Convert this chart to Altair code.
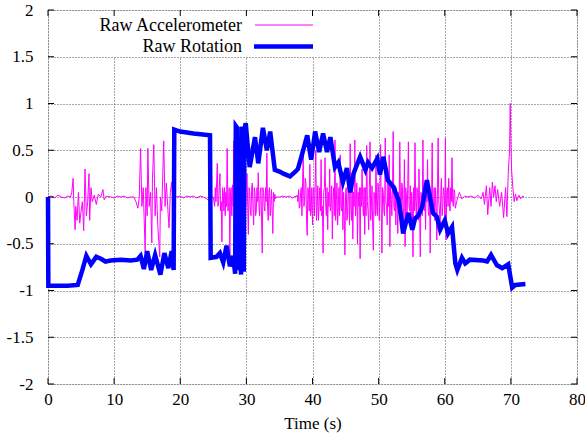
import altair as alt
import pandas as pd

# ---------------- data ----------------
# Raw accelerometer, segment 1 (0 - 24.8 s)
acc1_t = [0, 0.5, 1, 1.5, 2, 2.5, 3, 3.4,
          3.6, 3.8, 3.9, 4.1, 4.2, 4.4, 4.6, 4.8, 5.0, 5.2, 5.4, 5.6, 5.8, 6.0, 6.2, 6.3, 6.5, 6.7, 7.0, 7.3, 7.6, 8.0, 8.3, 8.5, 8.8,
          9.5, 10, 10.5, 11, 11.5, 12, 12.5, 13, 13.3, 13.6, 13.8,
          14.0, 14.2, 14.4, 14.7, 14.8, 15.0, 15.1, 15.3, 15.5, 15.7, 15.8, 16.0, 16.2, 16.4, 16.6, 16.9, 17.0, 17.2, 17.5, 17.7,
          17.9, 18.1, 18.3, 18.5, 18.7, 18.9, 19.1,
          19.5, 20, 20.5, 21, 21.5, 22, 22.5, 23, 23.5, 24, 24.5, 24.8]
acc1_v = [0, 0.01, -0.01, 0.02, 0, -0.01, 0.01, 0.0,
          0.05, 0.2, -0.05, -0.35, -0.1, -0.25, 0.05, -0.28, -0.15, -0.05, -0.36, 0.3, -0.2, -0.05, 0.25, -0.25, 0.1, -0.05, 0.02, -0.08, 0.03, 0.0, 0.08, -0.03, 0.01,
          0.0, -0.01, 0.01, 0.0, 0.01, -0.01, 0.0, 0.0, -0.05, -0.12, 0.0,
          0.52, -0.1, 0.1, -0.6, 0.1, -0.2, 0.52, -0.1, 0.05, -0.49, 0.2, 0.56, -0.2, 0.1, -0.3, -0.64, 0.0, -0.15, 0.6, -0.1,
          0.15, -0.1, -0.33, 0.05, 0.16, -0.05, 0.02,
          0.0, 0.01, -0.01, 0.01, 0.0, 0.01, -0.01, 0.01, 0.0, -0.02, -0.05, 0.0]

# segment 2 (25 - 34.5 s)
acc2_t = [25.0, 25.1, 25.2, 25.3, 25.4, 25.5, 25.6, 25.7, 25.8, 25.9, 26.0, 26.1, 26.2, 26.3, 26.4, 26.5, 26.6, 26.7, 26.8, 26.9,
          27.0, 27.1, 27.2, 27.3, 27.4, 27.5, 27.6, 27.7, 27.8, 27.9, 28.0, 28.1, 28.2, 28.3, 28.4, 28.5, 28.6, 28.7, 28.8, 28.9,
          29.0, 29.1, 29.2, 29.3, 29.4, 29.5, 29.6, 29.7, 29.8, 29.9, 30.0, 30.1, 30.2, 30.3, 30.4, 30.5, 30.6, 30.7, 30.8, 30.9,
          31.0, 31.1, 31.2, 31.3, 31.4, 31.5, 31.6, 31.7, 31.8, 31.9, 32.0, 32.1, 32.2, 32.3, 32.4, 32.5, 32.6, 32.7, 32.8, 32.9,
          33.0, 33.1, 33.2, 33.3, 33.4, 33.5, 33.6, 33.7, 33.8, 33.9, 34.0, 34.1, 34.2, 34.3, 34.4, 34.5]
acc2_v = [0.0, -0.05, -0.1, 0.1, -0.05, 0.15, 0.36, -0.1, -0.05, 0.1, 0.25, -0.15, -0.05, -0.48, 0.1, 0.05, -0.15, 0.1, -0.2, 0.05,
          -0.1, 0.52, -0.15, -0.1, 0.1, -0.64, 0.05, 0.1, -0.2, 0.13, -0.1, 0.6, -0.15, -0.3, 0.15, 0.1, -0.2, -0.45, 0.05, 0.2,
          -0.15, -0.1, 0.1, 0.35, -0.1, -0.3, 0.05, 0.1, -0.2, -0.1, 0.15, 0.25, -0.1, -0.4, 0.1, 0.05, -0.15, -0.2, 0.1, 0.15,
          -0.1, -0.3, 0.1, 0.05, -0.2, -0.15, 0.1, -0.05, 0.26, -0.1, -0.2, 0.05, 0.1, -0.25, -0.6, 0.1, 0.05, -0.1, -0.15, 0.1,
          -0.05, 0.47, -0.1, -0.25, 0.05, 0.1, -0.2, -0.1, 0.08, -0.15, -0.39, 0.05, -0.05, 0.03, -0.02, 0.0]

# segment 3 (quiet, 35 - 37.4 s)
acc3_t = [35, 35.5, 36, 36.5, 37, 37.4]
acc3_v = [0.0, 0.01, 0.0, 0.01, -0.01, 0.01]

# segment 4 (37.5 - 61.8 s)
acc4_t = [37.5, 37.7, 37.8, 37.9, 38.0, 38.1, 38.2, 38.3, 38.4, 38.5, 38.6, 38.7, 38.8, 38.9, 39.0, 39.1, 39.2, 39.3, 39.4, 39.5,
          39.6, 39.7, 39.8, 39.9, 40.0, 40.1, 40.2, 40.3, 40.4, 40.5, 40.6, 40.7, 40.8, 40.9, 41.0, 41.1, 41.2, 41.3, 41.4, 41.5,
          41.6, 41.7, 41.8, 41.9, 42.0, 42.1, 42.2, 42.3, 42.4, 42.5, 42.6, 42.7, 42.8, 42.9, 43.0, 43.1, 43.2, 43.3, 43.4, 43.5,
          43.6, 43.7, 43.8, 43.9, 44.0, 44.1, 44.2, 44.3, 44.4, 44.5, 44.6, 44.7, 44.8, 44.9, 45.0, 45.1, 45.2, 45.3, 45.4, 45.5,
          45.6, 45.7, 45.8, 45.9, 46.0, 46.1, 46.2, 46.3, 46.4, 46.5, 46.6, 46.7, 46.8, 46.9, 47.0, 47.1, 47.2, 47.3, 47.4, 47.5,
          47.6, 47.7, 47.8, 47.9, 48.0, 48.1, 48.2, 48.3, 48.4, 48.5, 48.6, 48.7, 48.8, 48.9, 49.0, 49.1, 49.2, 49.3, 49.4, 49.5,
          49.6, 49.7, 49.8, 49.9, 50.0, 50.1, 50.2, 50.3, 50.4, 50.5, 50.6, 50.7, 50.8, 50.9, 51.0, 51.1, 51.2, 51.3, 51.4, 51.5,
          51.6, 51.7, 51.8, 51.9, 52.0, 52.1, 52.2, 52.3, 52.4, 52.5, 52.6, 52.7, 52.8, 52.9, 53.0, 53.1, 53.2, 53.3, 53.4, 53.5,
          53.6, 53.7, 53.8, 53.9, 54.0, 54.1, 54.2, 54.3, 54.4, 54.5, 54.6, 54.7, 54.8, 54.9, 55.0, 55.1, 55.2, 55.3, 55.4, 55.5,
          55.6, 55.7, 55.8, 55.9, 56.0, 56.1, 56.2, 56.3, 56.4, 56.5, 56.6, 56.7, 56.8, 56.9, 57.0, 57.1, 57.2, 57.3, 57.4, 57.5,
          57.6, 57.7, 57.8, 57.9, 58.0, 58.1, 58.2, 58.3, 58.4, 58.5, 58.6, 58.7, 58.8, 58.9, 59.0, 59.1, 59.2, 59.3, 59.4, 59.5,
          59.6, 59.7, 59.8, 59.9, 60.0, 60.1, 60.2, 60.3, 60.4, 60.5, 60.6, 60.7, 60.8, 60.9, 61.0, 61.1, 61.2, 61.3, 61.4, 61.5,
          61.6, 61.8]
acc4_v = [0.0, 0.02, -0.05, 0.08, -0.12, -0.1, 0.05, 0.1, -0.2, 0.15, 0.47, -0.1, -0.05, 0.2, 0.15, -0.25, -0.41, 0.1, 0.05, -0.15,
          0.35, -0.2, -0.15, 0.1, -0.3, 0.05, 0.1, -0.2, 0.15, 0.5, -0.25, -0.1, 0.12, -0.25, -0.05, 0.1, -0.15, 0.4, -0.2, -0.1,
          -0.6, 0.05, 0.1, 0.42, -0.1, -0.2, 0.1, -0.35, 0.05, -0.1, 0.3, -0.15, -0.1, 0.12, -0.45, -0.05, 0.1, -0.2, 0.61, -0.25,
          -0.05, 0.15, -0.3, -0.1, 0.1, -0.2, 0.45, -0.1, -0.15, 0.12, -0.35, 0.05, -0.2, -0.62, 0.05, 0.1, -0.25, -0.2, 0.15, 0.0,
          -0.3, 0.57, -0.1, -0.25, 0.1, -0.45, 0.05, -0.1, 0.61, -0.2, -0.1, 0.15, -0.5, 0.05, -0.1, 0.1, -0.66, 0.1, -0.1, 0.3,
          -0.05, -0.2, 0.1, -0.4, 0.1, -0.2, 0.55, -0.05, -0.15, -0.35, 0.1, 0.59, -0.25, -0.1, 0.12, -0.3, -0.57, 0.05, 0.0, -0.2,
          0.45, -0.1, -0.2, 0.15, 0.1, -0.25, 0.05, 0.56, -0.15, -0.6, 0.1, 0.05, -0.15, -0.2, 0.63, -0.05, -0.1, -0.3, 0.2, -0.1,
          0.45, -0.53, 0.1, 0.0, -0.2, 0.1, 0.7, -0.1, -0.15, 0.12, -0.3, 0.1, -0.1, -0.39, 0.05, -0.15, 0.59, -0.05, -0.2, 0.15,
          0.1, -0.25, -0.1, 0.4, -0.53, 0.1, 0.0, -0.2, 0.1, 0.59, -0.1, -0.15, 0.12, -0.3, 0.05, -0.1, -0.64, 0.1, -0.15, 0.58,
          -0.05, -0.2, 0.1, 0.05, -0.25, 0.3, -0.1, -0.64, 0.05, 0.0, -0.2, 0.61, -0.1, -0.15, 0.1, -0.35, 0.1, -0.05, 0.4, -0.15,
          -0.2, 0.1, -0.6, 0.0, -0.1, 0.58, -0.2, -0.1, 0.1, -0.25, 0.1, -0.1, -0.46, 0.1, 0.63, -0.05, -0.15, -0.3, 0.05, 0.2,
          -0.2, -0.1, 0.1, 0.05, -0.2, 0.63, -0.46, 0.05, 0.1, -0.1, 0.2, -0.05, -0.15, 0.1, -0.05, 0.42, -0.05, -0.1, 0.08, 0.05,
          -0.12, -0.05]

# segment 5 (62 - 72 s)
acc5_t = [62.2, 62.6, 63, 63.5, 64, 64.5, 65, 65.5, 65.8, 66.0, 66.3, 66.5, 66.8, 67.0, 67.2, 67.4, 67.6, 67.8, 68.0, 68.3,
          68.6, 68.9, 69.2, 69.4, 69.6, 69.8, 69.9, 70.0, 70.1, 70.3, 70.5, 70.7, 70.9, 71.2, 71.5, 71.8, 72.0]
acc5_v = [0.05, -0.02, 0.01, 0.0, 0.01, -0.01, 0.02, -0.02, 0.05, -0.08, 0.12, -0.19, 0.1, -0.1, 0.16, 0.0, 0.12, -0.05, 0.08, -0.1,
          0.05, -0.22, 0.1, -0.21, 0.25, 0.5, 1.0, 0.6, 0.3, 0.1, -0.05, 0.03, -0.04, 0.02, -0.02, 0.01, 0.0]

# Raw rotation
rot_t = [0, 0.05, 1, 2, 3, 4.5, 5.2, 5.8, 6.5, 7.3, 8.0, 8.7, 9.5, 11, 12.5, 13.5,
         14.0, 14.5, 15.0, 15.6, 16.2, 17.0, 17.6, 18.2, 18.7, 19.0,
         19.1, 20, 22, 24.5,
         24.6, 25.5, 26.0, 26.5, 27.0, 27.5, 28.0, 28.3, 28.4, 28.6, 28.7, 29.0, 29.2, 29.3, 29.5, 29.6, 29.7,
         29.9, 30.5, 31.3, 31.8, 32.5, 33.1, 33.6, 34.3, 35.1, 35.6, 36.6, 37.4, 37.8, 38.4, 39.2, 39.8, 40.4, 41.0, 41.6,
         42.2, 42.7, 43.4, 43.9, 44.6, 45.2, 45.7, 46.2, 47.2, 48.0, 48.4, 49.0, 49.8, 50.2, 50.7, 51.4, 52.2, 53.0,
         53.4, 53.7, 54.5, 55.1, 55.5, 56.0, 56.6, 57.3, 58.2, 58.8, 59.3, 60.0, 60.5, 61.1, 61.6, 61.9,
         62.6, 63.1, 63.8, 65.8, 66.4, 67.0, 67.9, 68.7, 69.6, 70.2, 70.7, 72.2]
rot_v = [0, -0.95, -0.95, -0.95, -0.95, -0.94, -0.78, -0.63, -0.72, -0.64, -0.66, -0.69, -0.68, -0.67, -0.68, -0.67,
         -0.63, -0.77, -0.58, -0.78, -0.62, -0.83, -0.6, -0.76, -0.58, -0.78,
         0.72, 0.70, 0.68, 0.66,
         -0.65, -0.64, -0.60, -0.70, -0.52, -0.74, -0.63, -0.82, 0.76, 0.74, -0.78, -0.6, -0.83, 0.75, 0.70, -0.8, 0.72,
         0.79, 0.32, 0.64, 0.36, 0.74, 0.5, 0.7, 0.29, 0.27, 0.25, 0.22, 0.27, 0.3, 0.45, 0.66, 0.4, 0.7, 0.48, 0.68,
         0.48, 0.64, 0.32, 0.37, 0.16, 0.31, 0.05, 0.25, 0.43, 0.29, 0.37, 0.31, 0.41, 0.24, 0.43, 0.18, 0.11, -0.03,
         -0.21, -0.39, -0.17, -0.35, -0.23, -0.2, -0.1, 0.18, -0.17, -0.21, -0.35, -0.25, -0.39, -0.32, -0.71, -0.78,
         -0.65, -0.71, -0.67, -0.68, -0.69, -0.62, -0.73, -0.76, -0.72, -0.97, -0.94, -0.93]

x_ticks = [0, 10, 20, 30, 40, 50, 60, 70, 80]
y_ticks = [-2, -1.5, -1, -0.5, 0, 0.5, 1, 1.5, 2]
series_names = ["Raw Accelerometer", "Raw Rotation"]
series_colors = ["#ff00ff", "#0000ff"]

acc_t = acc1_t + acc2_t + acc3_t + acc4_t + acc5_t
acc_v = acc1_v + acc2_v + acc3_v + acc4_v + acc5_v
acc = pd.DataFrame({"t": acc_t, "v": acc_v, "i": range(len(acc_t))})
rot = pd.DataFrame({"t": rot_t, "v": rot_v, "i": range(len(rot_t))})
xt = pd.DataFrame({"t": x_ticks})
yt = pd.DataFrame({"v": y_ticks})
one = pd.DataFrame({"k": [0]})

W, H = 529, 374
FONT = "Liberation Serif"

xscale = alt.Scale(domain=[0, 80], nice=False, zero=False)
yscale = alt.Scale(domain=[-2, 2], nice=False, zero=False)

xaxis = alt.Axis(values=x_ticks, title="Time (s)", grid=True, ticks=False, domain=False,
                 labelFont=FONT, labelFontSize=17, labelColor="black", labelPadding=7,
                 titleFont=FONT, titleFontSize=17, titleFontWeight="normal", titleColor="black",
                 titlePadding=8, gridColor="#333333", gridDash=[1, 2], gridOpacity=0.85,
                 labelExpr="'' + datum.value", labelFlush=False)
yaxis = alt.Axis(values=y_ticks, title=None, grid=True, ticks=False, domain=False,
                 labelFont=FONT, labelFontSize=17, labelColor="black", labelPadding=15,
                 gridColor="#333333", gridDash=[1, 2], gridOpacity=0.85,
                 labelExpr="'' + datum.value", labelFlush=False)

X = alt.X("t:Q", scale=xscale, axis=xaxis)
Y = alt.Y("v:Q", scale=yscale, axis=yaxis)

acc_line = alt.Chart(acc).mark_line(color=series_colors[0], strokeWidth=1).encode(
    x=X, y=Y, order="i:Q")
rot_line = alt.Chart(rot).mark_line(color=series_colors[1], strokeWidth=4.5).encode(
    x=X, y=Y, order="i:Q")

# key background (clears grid behind the key, as gnuplot does)
key_bg = alt.Chart(one).mark_rect(color="white").encode(
    x=alt.value(1), x2=alt.value(276), y=alt.value(1), y2=alt.value(47))

key_txt1 = alt.Chart(pd.DataFrame({"s": [series_names[0]]})).mark_text(
    align="right", baseline="middle", font=FONT, fontSize=18, color="black").encode(
    text="s:N", x=alt.value(194), y=alt.value(16))
key_txt2 = alt.Chart(pd.DataFrame({"s": [series_names[1]]})).mark_text(
    align="right", baseline="middle", font=FONT, fontSize=18, color="black").encode(
    text="s:N", x=alt.value(194), y=alt.value(37))
key_l1 = alt.Chart(one).mark_rule(color=series_colors[0], strokeWidth=1).encode(
    x=alt.value(207), x2=alt.value(265), y=alt.value(15))
key_l2 = alt.Chart(one).mark_rule(color=series_colors[1], strokeWidth=4.5).encode(
    x=alt.value(206), x2=alt.value(265), y=alt.value(36.5))

# inward ticks (gnuplot style, mirrored)
tb = alt.Chart(xt).mark_rule(color="black", strokeWidth=1).encode(
    x=X, y=alt.value(H), y2=alt.value(H - 6))
tt = alt.Chart(xt).mark_rule(color="black", strokeWidth=1).encode(
    x=X, y=alt.value(0), y2=alt.value(6))
tl = alt.Chart(yt).mark_rule(color="black", strokeWidth=1).encode(
    y=Y, x=alt.value(0), x2=alt.value(6))
tr = alt.Chart(yt).mark_rule(color="black", strokeWidth=1).encode(
    y=Y, x=alt.value(W), x2=alt.value(W - 6))

chart = alt.layer(acc_line, key_bg, rot_line, key_txt1, key_txt2, key_l1, key_l2, tb, tt, tl, tr).properties(
    width=W, height=H,
    padding={"left": 48, "top": 10, "right": 8, "bottom": 58},
    autosize=alt.AutoSizeParams(type="none"),
    background="white",
).configure_view(stroke="black", strokeWidth=1.5).configure(font=FONT)

chart.save("out.html", embed_options={"renderer": "svg", "actions": False})
